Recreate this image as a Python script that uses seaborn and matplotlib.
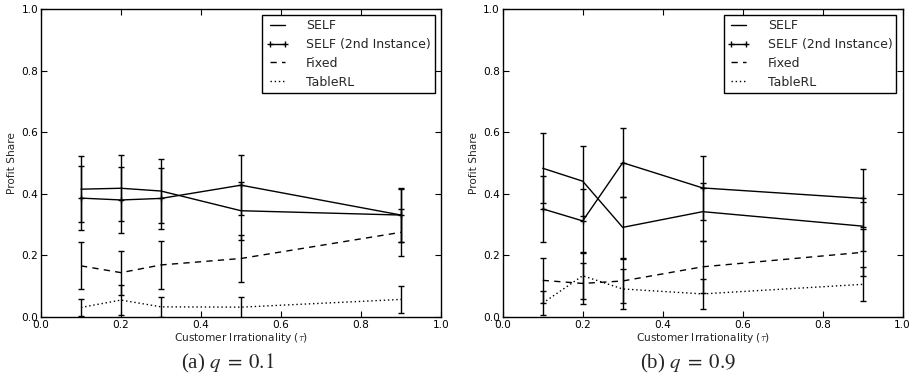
import matplotlib
matplotlib.use("Agg")
import matplotlib.pyplot as plt
import seaborn as sns
import pandas as pd

# Customer irrationality levels
tau = [0.1, 0.2, 0.3, 0.5, 0.9]

# q = 0.1
self_a_q1 = [0.415, 0.418, 0.409, 0.345, 0.331]
self_a_q1_err = [0.108, 0.107, 0.105, 0.094, 0.087]
self_b_q1 = [0.386, 0.380, 0.385, 0.428, 0.331]
self_b_q1_err = [0.104, 0.106, 0.100, 0.097, 0.086]
fixed_q1 = [0.166, 0.144, 0.169, 0.190, 0.275]
fixed_q1_err = [0.076, 0.071, 0.078, 0.075, 0.077]
table_q1 = [0.031, 0.055, 0.033, 0.032, 0.057]
table_q1_err = [0.027, 0.050, 0.033, 0.034, 0.043]

# q = 0.9
self_a_q9 = [0.483, 0.441, 0.291, 0.342, 0.295]
self_a_q9_err = [0.113, 0.114, 0.100, 0.094, 0.080]
self_b_q9 = [0.351, 0.312, 0.501, 0.419, 0.385]
self_b_q9_err = [0.107, 0.104, 0.112, 0.104, 0.094]
fixed_q9 = [0.119, 0.109, 0.117, 0.163, 0.210]
fixed_q9_err = [0.072, 0.067, 0.070, 0.085, 0.076]
table_q9 = [0.045, 0.134, 0.091, 0.075, 0.106]
table_q9_err = [0.040, 0.076, 0.066, 0.050, 0.055]

series_names = ["SELF", "SELF (2nd Instance)", "Fixed", "TableRL"]
captions = [r"(a) $q\;=\;0.1$", r"(b) $q\;=\;0.9$"]
x_ticks = [0.0, 0.2, 0.4, 0.6, 0.8, 1.0]
y_ticks = [0.0, 0.2, 0.4, 0.6, 0.8, 1.0]

sns.set_style("ticks")
plt.rcParams.update({
    "font.family": ["DejaVu Sans"],
    "xtick.direction": "in",
    "ytick.direction": "in",
    "xtick.top": True,
    "ytick.right": True,
    "xtick.major.size": 4,
    "ytick.major.size": 4,
    "xtick.major.width": 0.8,
    "ytick.major.width": 0.8,
    "axes.edgecolor": "black",
    "axes.linewidth": 1.0,
    "xtick.color": "black",
    "ytick.color": "black",
})

styles = [
    dict(linestyle="-"),
    dict(linestyle="-", marker="+", markersize=4, markeredgewidth=1,
         markeredgecolor="black", markerfacecolor="black"),
    dict(linestyle=(0, (4.5, 3.8))),
    dict(linestyle=(0, (1, 2))),
]

panels = [
    [(self_a_q1, self_a_q1_err), (self_b_q1, self_b_q1_err),
     (fixed_q1, fixed_q1_err), (table_q1, table_q1_err)],
    [(self_a_q9, self_a_q9_err), (self_b_q9, self_b_q9_err),
     (fixed_q9, fixed_q9_err), (table_q9, table_q9_err)],
]

fig = plt.figure(figsize=(9.16, 3.78), dpi=100)
axes_boxes = [
    [41 / 916, 1 - 317 / 378, 400 / 916, 308 / 378],
    [502.7 / 916, 1 - 317 / 378, 400 / 916, 308 / 378],
]
caption_x = [228 / 916, 688 / 916]

for box, panel, cap, cx in zip(axes_boxes, panels, captions, caption_x):
    ax = fig.add_axes(box)
    for name, (vals, errs), st in zip(series_names, panel, styles):
        df = pd.DataFrame({"tau": tau, "share": vals})
        sns.lineplot(data=df, x="tau", y="share", ax=ax, color="black",
                     linewidth=1.0, label=name, errorbar=None, **st)
        ax.errorbar(tau, vals, yerr=errs, fmt="none", ecolor="black",
                    elinewidth=1.0, capsize=2.0, capthick=1.0)
    ax.set_xlim(0, 1)
    ax.set_ylim(0, 1)
    ax.set_xticks(x_ticks)
    ax.set_yticks(y_ticks)
    ax.set_xticklabels([f"{v:.1f}" for v in x_ticks])
    ax.set_yticklabels([f"{v:.1f}" for v in y_ticks])
    ax.tick_params(labelsize=7.6, pad=2)
    ax.set_xlabel(r"Customer Irrationality ($\tau$)", fontsize=7.7,
                  labelpad=1, math_fontfamily="cm")
    ax.set_ylabel("Profit Share", fontsize=7.6, labelpad=3)
    leg = ax.legend(loc="upper right", numpoints=2, fontsize=9,
                    fancybox=False, framealpha=1, edgecolor="black",
                    borderaxespad=0.5, labelspacing=0.46, handlelength=1.8,
                    handletextpad=1.4, borderpad=0.32)
    leg.get_frame().set_linewidth(1.0)
    fig.text(cx, 1 - 363 / 378, cap, ha="center", va="center", fontsize=15,
             family="Liberation Serif", math_fontfamily="stix")

fig.savefig("out.png", dpi=100)
